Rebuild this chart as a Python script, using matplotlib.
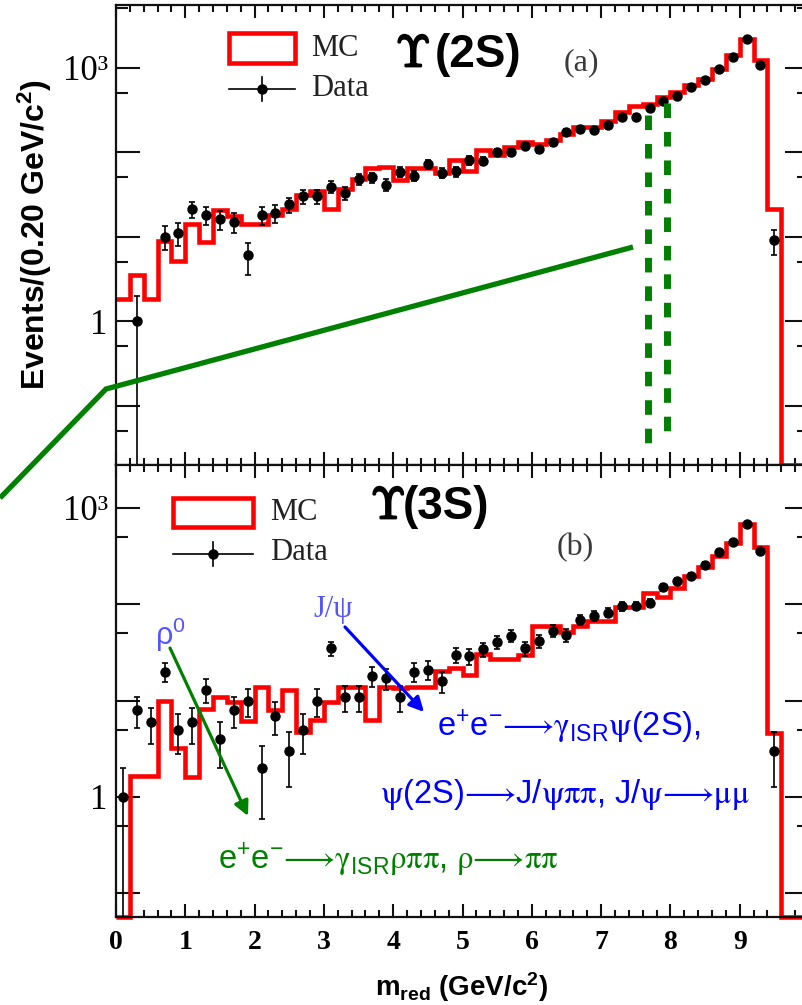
import numpy as np
import matplotlib
matplotlib.use("Agg")
import matplotlib.pyplot as plt
from matplotlib.patches import Rectangle, FancyArrowPatch
from matplotlib.lines import Line2D
from matplotlib.ticker import FixedLocator, MultipleLocator
import matplotlib.patheffects as pe

plt.rcParams["font.family"] = ["Liberation Sans", "DejaVu Sans"]
plt.rcParams["mathtext.fontset"] = "custom"
plt.rcParams["mathtext.rm"] = "Liberation Sans"
plt.rcParams["mathtext.it"] = "Liberation Sans:italic"
plt.rcParams["mathtext.bf"] = "Liberation Sans:bold"
# Greek letters and arrows of the physics labels come from the STIX face
plt.rcParams["mathtext.sf"] = "STIXGeneral"

# ---- data: 0.20 GeV/c^2 bins from 0 to 10 GeV/c^2 ----
bin_edges = np.linspace(0.0, 10.0, 51)

# Upsilon(2S) sample
mc_2s = [1.8, 3.5, 1.8, 8.9, 5.2, 14, 8.5, 20.5, 17.5, 14,
         14, 18, 21, 31, 35, 21, 37, 48, 65, 67,
         47, 65, 65, 56, 81, 60, 106, 93, 116, 130,
         125, 137, 164, 196, 196, 236, 296, 355, 372, 446,
         511, 613, 737, 968, 1400, 2200, 1215, 21, 0, 0]
data_2s = [0, 1, 0, 10, 11, 21, 18, 16, 15, 6,
           18, 19, 24, 30, 30, 39, 33, 48, 50, 41,
           58, 52, 72, 57, 59, 80, 79, 99, 100, 118,
           109, 130, 172, 188, 183, 211, 260, 262, 328, 405,
           462, 594, 715, 970, 1320, 2180, 1078, 9, 0, 0]

# Upsilon(3S) sample
mc_3s = [0, 1.65, 1.65, 10, 3.2, 1.6, 8.1, 11, 9.7, 6.2,
         14, 7.9, 13, 4.7, 6.3, 9.6, 14, 14, 6.3, 14,
         13.5, 13.7, 13.7, 20.5, 21.8, 18.5, 30.5, 27, 27, 30,
         60, 60, 52, 59, 67, 67, 93, 93, 130, 119,
         147, 197, 243, 319, 434, 687, 390, 4.6, 0, 0]
data_3s = [1, 8, 6, 20, 5, 6, 13, 4, 8, 10,
           2, 7, 3, 5, 10, 35, 11, 11, 18, 17,
           11, 20, 21, 16, 30, 29, 34, 41, 47, 35,
           42, 53, 48, 69, 76, 82, 95, 97, 103, 151,
           175, 196, 258, 348, 443, 685, 357, 3, 0, 0]

x_tick_labels = ["0", "1", "2", "3", "4", "5", "6", "7", "8", "9", ""]
y_major = [0.1, 1, 10, 100, 1000]
y_minor = [0.05, 0.5, 5, 50, 500, 5000]
y_labels = ["", "1", "", "", "10\u00b3"]

# ---- figure layout (pixel based) ----
W, H = 803, 1005
fig = plt.figure(figsize=(W / 100, H / 100), dpi=100)


def fx(px):
    return px / W


def fy(py):
    return 1 - py / H


ax_top = fig.add_axes([fx(116), fy(465), 693 / W, 460 / H])
ax_bot = fig.add_axes([fx(116), fy(917), 693 / W, 452 / H])

ylims = {ax_top: (10 ** -1.704, 10 ** 3.74), ax_bot: (10 ** -1.246, 10 ** 3.446)}
centers = 0.5 * (bin_edges[:-1] + bin_edges[1:])

for ax, mc, data in ((ax_top, mc_2s, data_2s), (ax_bot, mc_3s, data_3s)):
    ax.set_yscale("log")
    ax.set_xlim(0, 10)
    lo, hi = ylims[ax]
    ax.set_ylim(lo, hi)

    mc = np.asarray(mc, dtype=float)
    ax.stairs(np.maximum(mc, lo), bin_edges, baseline=None, color="#ff0000",
              lw=3.3, zorder=2, clip_on=False)

    d = np.asarray(data, dtype=float)
    sel = d > 0
    ax.errorbar(centers[sel], d[sel], yerr=np.sqrt(d[sel]), fmt="o",
                color="black", ms=6.5, elinewidth=1.2, capsize=2.2,
                capthick=1.2, zorder=3)

    ax.set_xticks(range(11))
    ax.xaxis.set_minor_locator(MultipleLocator(0.2))
    ax.yaxis.set_major_locator(FixedLocator(y_major))
    ax.yaxis.set_minor_locator(FixedLocator(y_minor))
    ax.set_yticks(y_major)
    ax.set_yticklabels(y_labels, fontfamily="Liberation Serif", fontsize=25)
    ax.tick_params(which="both", direction="in", top=True, right=True,
                   color="#111111", width=1.5)
    ax.tick_params(axis="y", which="major", length=17.5, pad=6)
    ax.tick_params(axis="y", which="minor", length=8.8)
    ax.tick_params(axis="x", which="major", length=9.5)
    ax.tick_params(axis="x", which="minor", length=5)
    for sp in ax.spines.values():
        sp.set_linewidth(1.6)
        sp.set_color("#111111")

ax_top.tick_params(axis="x", labelbottom=False)
ax_bot.set_xticklabels(x_tick_labels, fontfamily="Liberation Serif",
                       fontweight="bold", fontsize=20)
ax_bot.tick_params(axis="x", pad=9)

# ---- legends ----
def legend_block(box, data_y, text_x, mc_y, data_text_y, marker_x):
    x0, y0, x1, y1 = box
    fig.add_artist(Rectangle((fx(x0), fy(y1)), (x1 - x0) / W, (y1 - y0) / H,
                             fill=False, ec="#ff0000", lw=3.3,
                             transform=fig.transFigure))
    fig.add_artist(Line2D([fx(x0), fx(x1)], [fy(data_y), fy(data_y)],
                          color="black", lw=1.2, transform=fig.transFigure))
    fig.add_artist(Line2D([fx(marker_x)] * 2, [fy(data_y - 12), fy(data_y + 12)],
                          color="black", lw=1.2, transform=fig.transFigure))
    fig.add_artist(Line2D([fx(marker_x)], [fy(data_y)], marker="o", ms=6.5,
                          color="black", transform=fig.transFigure))
    fig.text(fx(text_x), fy(mc_y), "MC", fontfamily="Liberation Serif",
             fontsize=22, ha="left", va="center", color="#222222")
    fig.text(fx(text_x), fy(data_text_y), "Data", fontfamily="Liberation Serif",
             fontsize=22, ha="left", va="center", color="#222222")


legend_block((229, 33, 295, 63), 89, 311, 48, 88, 262)
legend_block((173, 498, 253, 527), 554, 270, 512, 553, 213)

fig.text(fx(564), fy(63), "(a)", fontfamily="Liberation Serif", fontsize=23,
         ha="left", va="center", color="#3a3a3a")
fig.text(fx(557), fy(548), "(b)", fontfamily="Liberation Serif", fontsize=23,
         ha="left", va="center", color="#3a3a3a")

# ---- axis titles ----
fig.text(fx(35), fy(234), r"Events/(0.20 GeV/c$^{\mathbf{2}}$)", rotation=90,
         fontsize=23, fontweight="bold", ha="center", va="center")
fig.text(fx(462), fy(987), r"$\mathbf{m}_{\mathbf{red}}$ (GeV/c$^{\mathbf{2}}$)",
         fontsize=20, fontweight="bold", ha="center", va="center")

# ---- resonance labels ----
stroke = [pe.withStroke(linewidth=1.6, foreground="black")]
for ups_x, lab_x, yc, lab in ((396, 435, 55, "(2S)"), (371, 403, 507, "(3S)")):
    fig.text(fx(ups_x), fy(yc), r"$\Upsilon$", math_fontfamily="cm",
             fontsize=32, ha="left", va="center", color="black",
             path_effects=stroke)
    fig.text(fx(lab_x), fy(yc), lab, fontsize=33, fontweight="bold",
             ha="left", va="center", color="black")

# ---- annotations in the lower panel ----
blue = "#0000ff"
violet = "#5555ff"
green = "#008000"

fig.text(fx(155), fy(635), r"$\mathrm{ρ}^{0}$", fontsize=22, color=violet,
         ha="left", va="center")
fig.text(fx(313), fy(610), "J/ψ", fontsize=22, color=violet,
         fontfamily="Liberation Serif", ha="left", va="center")

fig.text(fx(437), fy(727),
         r"e$^{+}$e$^{-}\mathsf{⟶γ}_{\mathrm{ISR}}\mathsf{ψ}$(2S),",
         fontsize=23.5, color=blue, ha="left", va="center")
fig.text(fx(380), fy(795),
         r"$\mathsf{ψ}$(2S)$\mathsf{⟶}$J/$\mathsf{ψππ}$, J/$\mathsf{ψ⟶μμ}$",
         fontsize=23.5, color=blue, ha="left", va="center")
fig.text(fx(218), fy(860),
         r"e$^{+}$e$^{-}\mathsf{⟶γ}_{\mathrm{ISR}}\mathsf{ρππ}$, $\mathsf{ρ⟶ππ}$",
         fontsize=23.5, color=green, ha="left", va="center")

for (x0, y0), (x1, y1), col in (((170, 648), (248, 816), green),
                                ((345, 627), (424, 712), blue)):
    fig.add_artist(FancyArrowPatch((fx(x0), fy(y0)), (fx(x1), fy(y1)),
                                   transform=fig.transFigure,
                                   arrowstyle="-|>", mutation_scale=22,
                                   lw=2.3, color=col, shrinkA=0, shrinkB=0))

# ---- green guide lines over the upper panel ----
fig.add_artist(Line2D([fx(0), fx(106), fx(633)], [fy(498), fy(389), fy(247)],
                      color=green, lw=3.8, solid_capstyle="butt",
                      solid_joinstyle="miter", transform=fig.transFigure))
for xg, ya, yb in ((648, 115, 450), (667, 103, 438)):
    fig.add_artist(Line2D([fx(xg), fx(xg)], [fy(ya), fy(yb)], color=green,
                          lw=5, dashes=(2.1, 2.0), transform=fig.transFigure))

fig.savefig("out.png", dpi=100)
